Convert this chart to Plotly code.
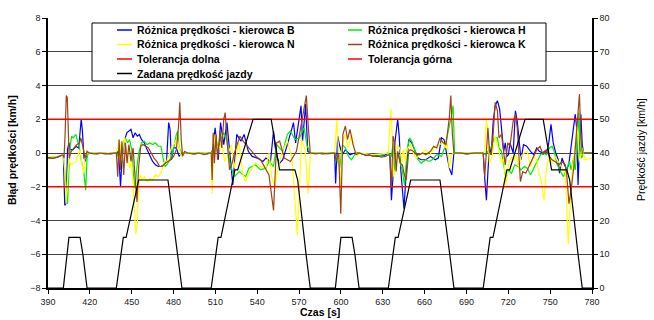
import plotly.graph_objects as go

# ---------------- data ----------------
x_ticks = [390, 420, 450, 480, 510, 540, 570, 600, 630, 660, 690, 720, 750, 780]
y_ticks = [-8, -6, -4, -2, 0, 2, 4, 6, 8]
y2_ticks = [0, 10, 20, 30, 40, 50, 60, 70, 80]

t_B = [390, 394, 397, 399, 401, 402, 403, 404, 405, 406, 408, 410, 412, 413.8, 414.6, 415.8, 416.8, 418,
       421, 425, 430, 435, 439,
       440, 441, 442, 443, 444, 445, 446.5, 448, 449.5, 451, 452.5, 454, 455.5, 457, 459, 461, 463, 465, 467, 469, 471, 473, 475, 476.5, 477.5, 478.5, 480, 482, 484, 486,
       490, 495, 500, 504, 507,
       508.2, 509.8, 512.1, 513.7, 516, 518.3, 520.2, 522.5, 525.3, 528.3, 530.6, 533.6, 536.4, 540, 544.1, 546.2, 549.5, 551.7, 552.8, 553.9, 556.1, 558.3, 561.6, 563.8, 566, 567.5, 569.2, 571.4, 572.5, 574.7, 576.2, 578,
       582, 587, 592, 595.5,
       596.2, 597.7, 599.2, 601, 603.2, 606.5, 609.8, 613,
       617, 622, 627, 631, 634,
       635.1, 636.2, 637.4, 638.5, 640.7, 641.8, 643, 645.2, 647, 648.6, 650.8, 653, 655.3, 657.5, 660.9, 664.2, 667.6, 669.8, 672.1, 673.9, 675.4, 677.7, 679.5, 681,
       685, 690, 695, 700, 702,
       703.1, 704.3, 705.4, 706.5, 707.7, 709.2, 710.6, 712.2, 713.8, 715.1, 716.7, 717.8, 719, 720.1, 721.2, 723.5, 725.1, 726.4, 727.5, 729.1, 730.9, 733.2, 735.9, 738.2, 740.4, 742.2, 744.5, 746.1, 747.7, 749, 750.6, 752.2, 754, 755.8, 756.7, 758.5, 760.3, 761.9, 763.5, 765, 766.5, 768, 769, 770, 771, 772, 773, 774, 777, 780]
e_B = [-0.25, -0.3, -0.25, -0.15, -0.1, -3.1, -3.0, 0.2, 0.6, 0.2, 0.2, 0.4, 0.3, 2.0, 1.4, -0.3, -0.5, 0.0,
       0.0, -0.05, 0.0, -0.05, 0.0,
       0.1, -0.5, -2.0, -0.4, 0.3, 0.8, 1.2, 1.3, 1.4, 0.9, 1.2, 1.0, 1.1, 0.8, 0.6, 0.2, -0.2, -0.5, -0.7, -0.8, -0.8, -0.7, -0.5, 1.8, 1.4, -0.4, 0.3, 0.3, -0.2, 0.0,
       0.0, -0.05, 0.0, -0.05, 0.0,
       0.2, 1.5, -0.4, 1.8, 0.5, 1.8, 0.1, -1.9, 1.1, 0.7, 1.1, 0.1, -0.2, -0.3, -0.5, -0.3, -0.5, 1.3, 0.4, -0.2, -0.6, -0.4, 0.5, 1.1, 1.8, 0.6, 1.5, 2.8, 0.7, 2.9, 0.1, 0.0,
       0.0, -0.05, 0.0, 0.0,
       -1.8, 1.0, 0.4, -0.1, 0.2, -0.1, 0.0, 0.0,
       -0.1, -0.15, -0.2, -0.15, 0.0,
       -0.1, -2.8, -1.3, 0.5, 2.0, 1.0, -1.1, -3.3, -0.9, 0.8, 0.6, 0.1, -0.3, -0.4, -0.4, -0.2, -0.4, -0.3, 0.9, 0.8, 0.2, -0.9, -1.3, 0.0,
       0.0, -0.05, 0.0, 0.0, 0.0,
       -1.5, -2.8, -1.1, 0.4, -0.1, 1.9, 2.8, 3.1, 2.6, 1.3, 0.1, 0.6, -0.2, -0.1, 0.6, 0.0, 2.5, 1.9, 0.9, -0.4, 0.5, 0.4, 0.1, -0.1, 0.3, 0.1, 0.0, 0.1, 0.0, 0.6, 1.7, 0.6, 0.0, -0.4, -1.2, -0.3, -0.7, -1.0, -0.6, 0.3, 1.2, 2.3, 1.5, -1.9, 0.5, 2.3, 0.5, 0.0, 0.0, 0.0]

t_H = [390, 395, 399, 401, 402.5, 404, 405, 406, 407, 408, 410, 411.5, 412.5, 414, 415.5, 417, 418, 419,
       425, 432, 439,
       440, 441, 442.5, 444, 445.5, 447, 448.5, 450, 451.5, 452.5, 453.5, 455, 457, 459, 461, 463, 465, 467, 469, 471, 472.5, 474, 476, 478, 480, 482, 483, 484, 486,
       495, 507,
       508.6, 510.3, 512.1, 513.7, 516, 518.3, 520.6, 523.7, 527.1, 531.7, 534, 538.7, 542.4, 546.2, 548.4, 551.7, 553.9, 558.3, 561.6, 563.8, 567, 570.3, 573.6, 575.8, 578,
       587, 595.5,
       596.6, 599.2, 601, 603.2, 605.4, 607.6, 609.8, 613,
       620, 627, 634,
       636.2, 637.4, 638.5, 639.6, 641.8, 644.1, 645.6, 647.4, 649.2, 650.8, 653, 655.3, 657.5, 660.9, 663.1, 665.4, 668.7, 672.1, 674.3, 676.6, 678.8, 680.4, 681.5,
       690, 702,
       703.8, 705.4, 707.7, 709.9, 712.2, 713.3, 715.1, 716.7, 718.3, 720.1, 722.3, 724.6, 726.9, 729.1, 731.4, 733.6, 735.9, 738.2, 740.4, 743.1, 744.9, 747.2, 749.5, 751.3, 752.9, 755.1, 757.4, 759.6, 761.9, 763.9, 765, 766.5, 768, 769.5, 770.5, 771.5, 772.5, 774, 780]
e_H = [-0.2, -0.25, -0.15, -0.1, -1.5, -3.0, -1.0, 0.5, 1.0, 0.9, 1.1, 0.6, 0.3, -0.5, -1.0, -2.2, -0.3, 0.0,
       0.0, -0.05, 0.0,
       -0.2, 0.3, -0.5, 0.6, 0.9, 0.6, 0.8, 0.2, -1.5, -2.1, -1.0, 0.0, 0.6, 0.7, 0.5, 0.6, 0.5, 0.6, 0.4, 0.4, -0.3, -0.8, -0.6, -0.3, 0.2, 1.1, 1.3, 0.3, 0.0,
       0.0, 0.0,
       0.2, 0.6, 0.4, 0.8, 1.2, 0.7, -0.7, -1.4, -1.1, -1.4, -0.9, -0.7, -1.0, -0.9, -0.5, -0.8, 0.5, 0.1, 1.1, 1.3, 0.8, 0.9, 1.5, 0.4, 0.0,
       0.0, 0.0,
       -0.2, -0.9, 0.5, 0.3, -0.2, -0.4, -0.1, 0.0,
       -0.1, -0.15, 0.0,
       -0.2, 0.6, -1.1, -0.1, -0.3, -1.1, -1.9, 0.1, 0.9, 0.7, 0.1, -0.4, -0.6, -0.4, -0.5, -0.4, -0.1, -0.2, 0.3, 1.1, 2.0, 2.8, 0.0,
       0.0, 0.0,
       -0.1, 0.1, 0.3, 0.9, 0.9, 0.3, 0.1, -0.7, -1.5, -1.0, -1.2, -0.7, -0.8, -1.0, -0.8, -0.9, -1.3, -0.9, -0.5, -0.1, 0.0, -0.1, 0.3, 0.4, 0.1, -0.7, -1.1, -1.4, -0.9, -0.5, -1.0, -0.4, -1.0, 0.5, 2.4, 0.3, -0.3, 0.0, 0.0]

t_N = [390, 395, 399, 401, 402, 403, 404, 405, 406, 408, 410, 412, 413, 414, 415.5, 416.5, 418,
       428, 439,
       440, 441, 442, 443, 444, 445, 446, 447, 448.5, 450, 451.5, 453, 454, 455, 456, 457.5, 459, 461, 463, 465, 467, 469, 471, 473, 475, 477, 479, 481, 482.5, 484, 485.5, 487,
       497, 507,
       507.7, 508.6, 509.8, 512.1, 514.4, 516.7, 519, 521.3, 523.7, 526.7, 529.4, 531.3, 534, 538.7, 542.4, 546.2, 548.4, 550.6, 552.8, 555, 558.3, 561.6, 564.9, 567, 568.8, 570.3, 571.8, 574.3, 576.5, 578.2,
       587, 595.5,
       597.1, 598.4, 599.5, 601, 602.7, 605.4, 607.6, 609.8, 611.9, 613,
       623, 634,
       635.8, 636.9, 637.8, 639.2, 640.7, 642.5, 643.6, 644.8, 646.3, 647.4, 649.7, 651.9, 654.2, 656.4, 660.9, 663.1, 667.6, 671, 673.2, 674.8, 676.1, 677.7, 679.2, 681,
       691, 702,
       703.1, 704.3, 705.4, 706.5, 708.3, 710.6, 713.3, 715.1, 716.7, 718.3, 720.1, 722.3, 724.1, 725.7, 727.5, 729.1, 731.4, 733.6, 735.9, 738.2, 740.4, 742.2, 743.8, 745.6, 747.2, 749, 751.3, 753.5, 755.8, 758.5, 760.8, 762, 763, 764.5, 766, 768, 769.5, 771, 773, 775, 780]
e_N = [-0.2, -0.25, -0.15, -0.1, -1.0, -3.0, -1.6, -0.3, -0.7, -0.6, -0.5, 0.0, 0.2, -0.5, -1.2, -0.3, 0.0,
       0.0, 0.0,
       0.3, 0.8, 0.2, -0.4, 0.5, 0.9, 0.2, -0.3, -0.9, -0.5, -2.5, -4.8, -4.2, -2.0, -1.3, -1.6, -1.4, -1.7, -1.5, -1.6, -1.3, -1.4, -1.2, -0.6, -0.5, 0.0, 0.4, 0.6, 0.9, 0.3, -0.2, 0.0,
       0.0, 0.0,
       -2.4, -0.2, 1.1, 0.1, 0.7, -0.5, -0.1, 0.5, -0.9, 0.7, -1.1, -1.7, -1.2, -0.6, -0.8, -0.9, 0.0, -1.5, -2.0, -0.8, 0.2, 0.7, -0.3, -2.5, -4.9, -2.0, 0.8, 0.2, -2.4, 0.0,
       0.0, 0.0,
       2.0, -0.1, -2.0, 0.5, 1.1, 0.3, 1.1, 0.2, -0.2, 0.0,
       -0.1, 0.0,
       2.6, 0.9, -1.4, -0.9, 0.5, 0.2, -0.6, 0.2, -0.5, 0.2, 0.5, 0.0, -0.3, -0.1, 0.2, -0.2, 0.4, 0.5, 0.7, 0.3, 0.6, -0.9, -0.1, 0.0,
       0.0, 0.0,
       0.1, 2.0, 1.3, -0.6, -0.2, 1.0, 0.1, -0.6, -0.3, -1.9, -0.7, -0.2, -0.4, -0.1, -0.9, -0.2, 0.0, 0.1, -0.8, -0.2, -0.4, -1.3, -1.7, -2.8, -1.1, -0.2, -0.6, -0.2, -0.5, -0.9, -1.1, -3.5, -5.4, -3.0, -0.8, 0.5, 1.6, -0.5, 0.3, -0.4, -0.3]

t_K = [390, 393, 396, 398, 400, 401, 401.5, 402.2, 403.1, 403.8, 404.5, 405.2, 406.6, 408.4, 410.8, 412.6, 413.5, 415, 416.5, 418, 419.5,
       423, 427, 431, 436, 439,
       440, 441, 442, 443, 444.3, 445.5, 446.7, 448, 449.5, 451, 452.5, 453.8, 455, 456.5, 458, 460, 462, 464, 466, 468, 470, 472, 474, 476, 478, 480, 482, 483.5, 484.5, 485.5, 486.5, 488, 490,
       494, 498, 502, 505, 507,
       507.7, 508.4, 509.3, 510.5, 511.6, 513.3, 514.6, 516, 517, 518.3, 520.2, 522, 523.7, 526, 527.6, 529.9, 532.9, 536.4, 539.1, 542.4, 545.2, 548.4, 551.7, 553.9, 556.1, 559.4, 563.8, 568.1, 570.3, 572.5, 575.2, 576.5, 578,
       582, 586, 590, 595.5,
       596.6, 598.4, 599.9, 601.4, 603.2, 604.7, 606.5, 608.7, 610.9, 613,
       615, 618, 620, 623, 626, 629, 632, 634,
       635.1, 636.2, 637.4, 638.5, 639.6, 640.7, 642.5, 644.1, 645.2, 646.8, 648.6, 649.7, 651.9, 654.2, 656.4, 658.6, 660.9, 664.2, 666.5, 668.7, 671, 673.2, 675.4, 677.7, 678.8, 679.9, 681,
       686, 691, 696, 702,
       703.1, 704.3, 705.4, 706.5, 707.7, 708.8, 710.6, 712.2, 713.3, 715.1, 716.7, 717.8, 719.6, 721.2, 723.5, 725.1, 726.4, 727.5, 728.7, 730.3, 732.5, 734.8, 737, 738.6, 740.4, 742.7, 744.9, 747.2, 749.5, 751.3, 753.5, 756.2, 758.5, 760.8, 761.8, 763.5, 765, 767, 768.5, 770, 771, 772, 773, 776, 780]
e_K = [-0.3, -0.32, -0.25, -0.2, -0.12, -0.15, -0.3, 1.0, 3.4, 3.3, 0.5, -0.3, 0.1, 0.3, 0.5, 0.6, 0.9, 0.4, -0.3, 0.1, 0.0,
       -0.05, 0.0, -0.05, 0.0, 0.0,
       -1.4, 0.8, -1.0, 0.7, -1.3, 0.6, -0.6, 0.5, -0.5, 0.3, -1.5, -2.9, -0.8, 0.4, 0.5, 0.4, 0.3, 0.0, -0.3, -0.5, -0.8, -0.8, -0.6, -0.5, -0.4, -0.2, 0.2, 1.5, 3.0, 0.8, -0.2, 0.1, 0.0,
       -0.05, 0.0, -0.1, 0.0, 0.0,
       -1.6, 1.2, -0.6, 1.1, -0.4, 1.3, 0.3, 2.0, 2.4, 0.8, -1.0, -0.6, 0.0, 0.6, 1.0, 0.7, 0.4, 0.1, -0.2, -0.4, -0.8, -1.3, -3.4, 0.6, 0.7, -0.3, -0.5, 0.1, 1.1, 2.1, 3.4, 1.7, 0.0,
       -0.05, 0.0, -0.05, 0.0,
       -0.5, 0.0, -3.6, 1.1, 1.6, 0.8, 1.4, 0.5, -0.1, 0.0,
       -0.05, -0.15, -0.1, -0.2, -0.15, -0.25, -0.2, -0.1,
       -0.2, -2.0, 1.0, 0.6, -1.1, 0.1, -0.6, -0.7, -1.2, -1.6, 0.1, 0.2, 0.1, -0.1, -0.1, 0.0, -0.1, 0.1, 0.4, 0.3, 0.9, 0.6, 0.5, 2.1, 3.4, 1.1, 0.0,
       0.0, -0.05, 0.0, 0.0,
       -1.4, 0.1, 1.5, 0.1, -0.1, 0.7, 3.0, 2.5, 0.9, 1.1, 0.1, -0.7, 0.6, 0.4, 1.9, 2.3, 1.5, 0.1, -1.7, -1.1, -1.2, -0.8, -0.4, -0.1, 0.2, 0.4, -0.1, 0.2, -0.2, -0.4, -0.5, -0.7, -0.5, -0.7, -1.2, -3.0, -2.2, -0.8, 0.8, 2.0, 3.5, 1.0, 0.0, 0.0, 0.0]

t_tol = [390, 780]
tol_low = [-2, -2]
tol_high = [2, 2]

t_speed = [390, 401, 405, 413, 415, 418, 439, 444, 446, 455, 476, 483, 486, 507, 512, 514, 524, 526, 537, 550, 556, 567, 569, 575, 578,
           596, 600, 608, 610, 613, 634, 639, 641, 650, 671, 678, 681, 702, 707, 709, 719, 721, 732, 745, 751, 762, 764, 770, 773, 780]
v_speed = [0, 0, 15, 15, 10, 0, 0, 15, 15, 32, 32, 10, 0, 0, 15, 15, 35, 35, 50, 50, 35, 35, 32, 10, 0,
           0, 15, 15, 10, 0, 0, 15, 15, 32, 32, 10, 0, 0, 15, 15, 35, 35, 50, 50, 35, 35, 32, 10, 0, 0]

names = ["Różnica prędkości - kierowca B", "Różnica prędkości - kierowca H",
         "Różnica prędkości - kierowca N", "Różnica prędkości - kierowca K",
         "Tolerancja dolna", "Tolerancja górna", "Zadana prędkość jazdy"]

# ---------------- figure ----------------
W, H = 654, 320
ML, MR, MT, MB = 48, 62, 18, 32
PW, PH = W - ML - MR, H - MT - MB

def px_x(p):
    return (p - ML) / PW

def px_y(p):
    return (H - MB - p) / PH

colors = ["#0000FF", "#00EE00", "#FFFF00", "#9C4516", "#FF0000", "#FF0000", "#000000"]
series = [(t_B, e_B), (t_H, e_H), (t_N, e_N), (t_K, e_K), (t_tol, tol_low), (t_tol, tol_high)]
widths = [1.2, 1.2, 1.2, 1.2, 1.6, 1.6, 1.2]

fig = go.Figure()
for i, (tx, ey) in enumerate(series):
    fig.add_trace(go.Scatter(x=tx, y=ey, mode="lines", name=names[i], showlegend=False,
                             line=dict(color=colors[i], width=widths[i])))
fig.add_trace(go.Scatter(x=t_speed, y=v_speed, mode="lines", name=names[6], yaxis="y2", showlegend=False,
                         line=dict(color=colors[6], width=widths[6])))

tickfont = dict(family="Liberation Sans, Arial", size=9, color="#222222")
fig.update_layout(
    width=W, height=H,
    margin=dict(l=ML, r=MR, t=MT, b=MB),
    paper_bgcolor="white", plot_bgcolor="white",
    xaxis=dict(range=[390, 780], tickvals=x_ticks, showgrid=False, zeroline=False,
               showline=True, linecolor="black", linewidth=1.5, ticks="outside", ticklen=4,
               tickcolor="black", tickfont=tickfont),
    yaxis=dict(range=[-8, 8], tickvals=y_ticks, showgrid=True, gridcolor="#444444", gridwidth=1,
               zeroline=False, showline=True, linecolor="black", linewidth=1.5, ticks="outside",
               ticklen=4, tickcolor="black", tickfont=tickfont),
    yaxis2=dict(range=[0, 80], tickvals=y2_ticks, overlaying="y", side="right", showgrid=False,
                zeroline=False, showline=True, linecolor="black", linewidth=1.5, ticks="outside",
                ticklen=4, tickcolor="black", tickfont=tickfont),
    showlegend=False,
)

# axis titles
title_font = dict(family="Liberation Sans, Arial", size=10.5, color="black", weight="bold")
fig.add_annotation(text="Błąd prędkości [km/h]", xref="paper", yref="paper", x=px_x(12), y=px_y(150),
                   textangle=-90, showarrow=False, font=title_font, xanchor="center", yanchor="middle")
fig.add_annotation(text="Prędkość jazdy [km/h]", xref="paper", yref="paper", x=px_x(641), y=px_y(150),
                   textangle=-90, showarrow=False, xanchor="center", yanchor="middle",
                   font=dict(family="Liberation Sans, Arial", size=10.5, color="black"))
fig.add_annotation(text="Czas [s]", xref="paper", yref="paper", x=0.5, y=px_y(312),
                   showarrow=False, font=title_font, xanchor="center", yanchor="middle")

# manual legend box
fig.add_shape(type="rect", xref="paper", yref="paper", x0=px_x(92), x1=px_x(546), y0=px_y(23), y1=px_y(81),
              fillcolor="white", line=dict(color="black", width=1), layer="above")
leg_rows = [30, 44.5, 59, 73.5]
leg_cols = [(117, 132, 135), (348, 362, 366)]
leg_font = dict(family="Liberation Sans, Arial", size=10.5, color="black", weight="bold")
for i, nm in enumerate(names):
    r, c = divmod(i, 2)
    lx0, lx1, tx = leg_cols[c]
    yy = leg_rows[r]
    fig.add_shape(type="line", xref="paper", yref="paper", x0=px_x(lx0), x1=px_x(lx1), y0=px_y(yy), y1=px_y(yy),
                  line=dict(color=colors[i], width=1.5), layer="above")
    fig.add_annotation(text=nm, xref="paper", yref="paper", x=px_x(tx), y=px_y(yy), showarrow=False,
                       xanchor="left", yanchor="middle", font=leg_font)

fig.write_html("out.html")
